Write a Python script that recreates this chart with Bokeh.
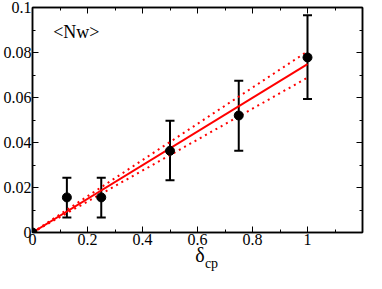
from bokeh.plotting import figure
from bokeh.models import (ColumnDataSource, Whisker, TeeHead, LinearAxis, FixedTicker,
                          Label, Range1d)
from bokeh.embed import file_html
from bokeh.resources import INLINE

# data
delta = [0.0, 0.125, 0.25, 0.5, 0.75, 1.0]
nw = [0.0, 0.0156, 0.0156, 0.0363, 0.0520, 0.0778]
err_lo = [0.0, 0.0067, 0.0067, 0.0232, 0.0363, 0.0593]
err_hi = [0.0, 0.0243, 0.0243, 0.0497, 0.0675, 0.0966]
fit_x = [0.0, 1.0]
fit_y = [0.0, 0.0748]
fit_up = [0.0, 0.0805]
fit_dn = [0.0, 0.0688]
x_ticks = [0, 0.2, 0.4, 0.6, 0.8, 1.0]
x_labels = ["0", "0.2", "0.4", "0.6", "0.8", "1"]
y_ticks = [0, 0.02, 0.04, 0.06, 0.08, 0.1]
y_labels = ["0", "0.02", "0.04", "0.06", "0.08", "0.1"]
x_minor = [0.1, 0.3, 0.5, 0.7, 0.9, 1.1]
y_minor = [0.01, 0.03, 0.05, 0.07, 0.09]

FONT = "Liberation Serif"
NB = "\u00a0"

p = figure(width=366, height=273, output_backend="svg", toolbar_location=None,
           x_range=Range1d(0, 1.2), y_range=Range1d(0, 0.1),
           min_border_left=28, min_border_right=4, min_border_top=7, min_border_bottom=2)
p.xgrid.visible = False
p.ygrid.visible = False
p.outline_line_color = "black"
p.outline_line_width = 1.5

def style_axis(ax, ticks, minor, labels, show_labels=True):
    ax.ticker = FixedTicker(ticks=ticks, minor_ticks=minor)
    ax.major_tick_in = 6
    ax.major_tick_out = 0
    ax.minor_tick_in = 3
    ax.minor_tick_out = 0
    ax.axis_line_width = 1.5
    ax.major_tick_line_width = 1
    ax.minor_tick_line_width = 1
    ax.major_label_text_font = FONT
    ax.major_label_text_font_style = "normal"
    ax.major_label_text_font_size = "16px"
    ax.major_label_text_color = "black"
    ax.major_label_standoff = 1
    if show_labels:
        ax.major_label_overrides = {t: l for t, l in zip(ticks, labels)}
    else:
        ax.major_label_overrides = {t: "" for t in ticks}

for ax in p.xaxis:
    style_axis(ax, x_ticks, x_minor, x_labels)
    ax.axis_label = NB + "δ"
    ax.axis_label_text_font = FONT
    ax.axis_label_text_font_style = "normal"
    ax.axis_label_text_font_size = "20px"
    ax.axis_label_text_color = "black"
    ax.axis_label_standoff = -4
for ax in p.yaxis:
    style_axis(ax, y_ticks, y_minor, y_labels)

# subscript of the x-axis label, drawn as the label of a tick-less axis below
sub = LinearAxis(axis_label=NB * 8 + "cp", axis_label_text_font=FONT,
                 axis_label_text_font_style="normal", axis_label_text_font_size="14px",
                 axis_label_text_color="black", axis_label_standoff=-13,
                 axis_line_color=None, major_tick_line_color=None, minor_tick_line_color=None,
                 major_label_text_font_size="0px", ticker=FixedTicker(ticks=[]))
p.add_layout(sub, "below")

top = LinearAxis()
style_axis(top, x_ticks, x_minor, x_labels, show_labels=False)
p.add_layout(top, "above")
right = LinearAxis()
style_axis(right, y_ticks, y_minor, y_labels, show_labels=False)
p.add_layout(right, "right")

# fit lines
p.line(fit_x, fit_y, line_color="red", line_width=2)
p.line(fit_x, fit_up, line_color="red", line_width=2, line_dash="2 4")
p.line(fit_x, fit_dn, line_color="red", line_width=2, line_dash="2 4")

src = ColumnDataSource(dict(x=delta, y=nw, lo=err_lo, hi=err_hi))
w = Whisker(source=src, base="x", lower="lo", upper="hi", line_color="black", line_width=2,
            upper_head=TeeHead(size=9, line_width=2, line_color="black"),
            lower_head=TeeHead(size=9, line_width=2, line_color="black"))
p.add_layout(w)
p.scatter("x", "y", source=src, size=9, color="black")

p.add_layout(Label(x=0.075, y=0.0893, text="<Nw>", text_font=FONT, text_font_size="18px",
                   text_baseline="middle", text_color="black"))

open("out.html", "w").write(file_html(p, INLINE))
